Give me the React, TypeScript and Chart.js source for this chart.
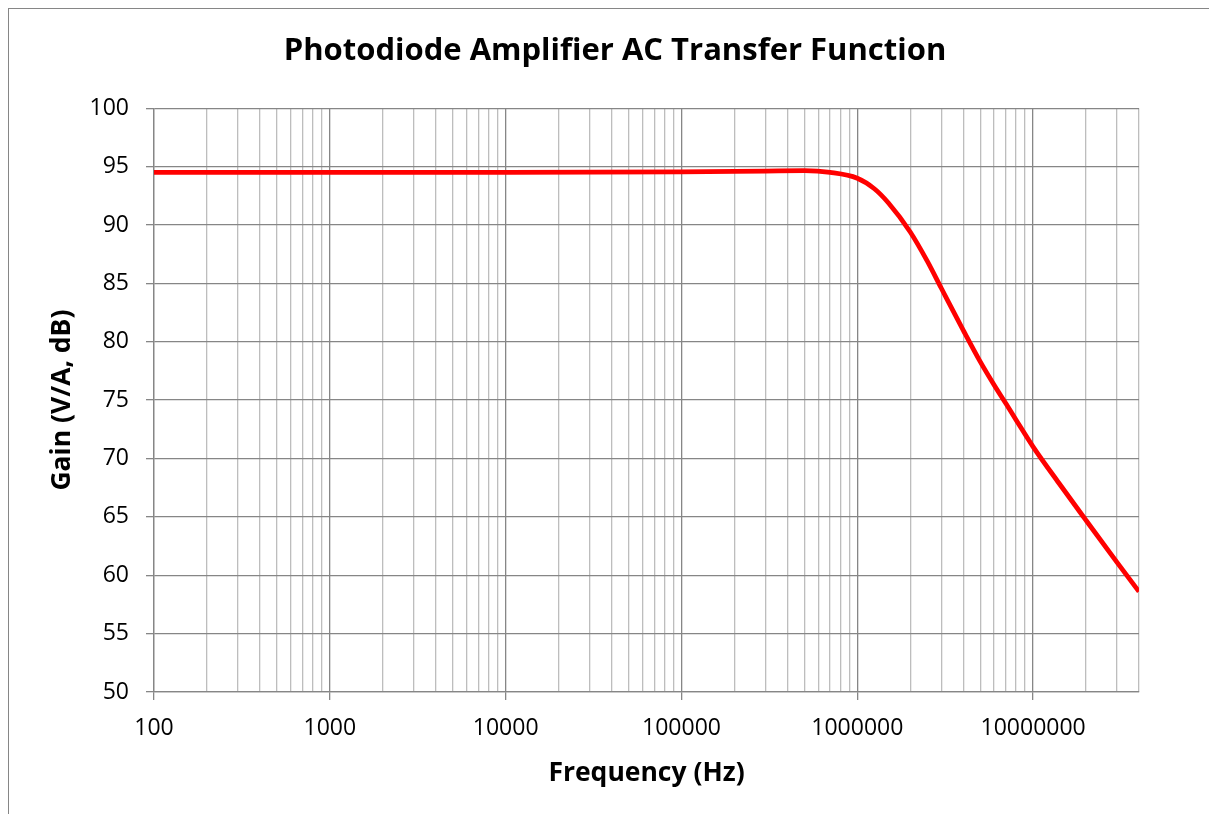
import React, { useEffect, useRef } from 'react';
import { Chart, registerables } from 'chart.js';

Chart.register(...registerables);

// ---- data ----
const frequencyHz = [
  100, 1000, 10000, 100000, 300000, 500000, 700000, 1000000, 1250000, 1500000,
  2000000, 2500000, 3000000, 4000000, 5000000, 6000000, 7000000, 8000000, 10000000,
  14000000, 20000000, 30000000, 40000000,
];
const gainDb = [
  94.5, 94.5, 94.5, 94.55, 94.62, 94.65, 94.5, 94.0, 93.1, 91.9,
  89.4, 86.9, 84.6, 81.0, 78.3, 76.3, 74.7, 73.3, 71.0,
  67.9, 64.7, 61.1, 58.6,
];

const xMajorTicks = [100, 1000, 10000, 100000, 1000000, 10000000];
const xMin = 100;
const xMax = 40000000;
const yMin = 50;
const yMax = 100;
const yStep = 5;

const titleText = 'Photodiode Amplifier AC Transfer Function';
const xTitleText = 'Frequency (Hz)';
const yTitleText = 'Gain (V/A, dB)';

const FONT = "'Open Sans', 'DejaVu Sans', sans-serif";
const MAJOR = '#868686';
const MINOR = '#bdbdbd';
const LINE = '#ff0000';

function buildLogTicks(): number[] {
  const out: number[] = [];
  for (const d of xMajorTicks) {
    for (let m = 1; m <= 9; m++) {
      const v = d * m;
      if (v <= xMax) out.push(v);
    }
  }
  if (!out.includes(xMax)) out.push(xMax);
  return out;
}

export default function App() {
  const canvasRef = useRef<HTMLCanvasElement | null>(null);

  useEffect(() => {
    const canvas = canvasRef.current;
    if (!canvas) return;
    const points = frequencyHz.map((f, i) => ({ x: f, y: gainDb[i] }));
    const tickValues = buildLogTicks();
    const isMajor = (v: number) => xMajorTicks.includes(v);

    const chart = new Chart(canvas, {
      type: 'line',
      data: {
        datasets: [
          {
            data: points,
            borderColor: LINE,
            backgroundColor: LINE,
            borderWidth: 4.75,
            pointRadius: 0,
            cubicInterpolationMode: 'monotone',
            fill: false,
          },
        ],
      },
      options: {
        animation: false,
        responsive: false,
        devicePixelRatio: 1,
        layout: { padding: { left: 13, right: 0, top: 0, bottom: 0 } },
        plugins: {
          legend: { display: false },
          tooltip: { enabled: false },
          title: {
            display: true,
            text: titleText,
            color: '#000',
            font: { family: FONT, size: 31, weight: 'bold', lineHeight: 1.2 },
            padding: { top: 24, bottom: 38 },
          },
        },
        scales: {
          x: {
            type: 'logarithmic',
            min: xMin,
            max: xMax,
            afterBuildTicks: (scale: any) => {
              scale.ticks = tickValues.map((v) => ({ value: v, major: isMajor(v) }));
            },
            afterFit: (scale: any) => {
              scale.height = 123;
            },
            ticks: {
              autoSkip: false,
              maxRotation: 0,
              minRotation: 0,
              padding: 15,
              color: '#000',
              font: { family: FONT, size: 23, lineHeight: 1.2 },
              callback: (value: any) => (isMajor(Number(value)) ? String(value) : ''),
            },
            grid: {
              color: (ctx: any) => (ctx.tick && isMajor(ctx.tick.value) ? MAJOR : MINOR),
              tickColor: (ctx: any) => (ctx.tick && isMajor(ctx.tick.value) ? MAJOR : 'rgba(0,0,0,0)'),
              lineWidth: 1.3,
              tickLength: 8,
            },
            border: { color: MAJOR, width: 1.3 },
            title: {
              display: true,
              text: xTitleText,
              color: '#000',
              font: { family: FONT, size: 26.5, weight: 'bold', lineHeight: 1.2 },
              padding: { top: 0, bottom: 26 },
            },
          },
          y: {
            type: 'linear',
            min: yMin,
            max: yMax,
            afterFit: (scale: any) => {
              scale.width = 132;
            },
            ticks: {
              stepSize: yStep,
              padding: 17,
              color: '#000',
              font: { family: FONT, size: 23, lineHeight: 1.2 },
            },
            grid: {
              color: MAJOR,
              tickColor: MAJOR,
              lineWidth: 1.3,
              tickLength: 8,
            },
            border: { color: MAJOR, width: 1.3 },
            title: {
              display: true,
              text: yTitleText,
              color: '#000',
              font: { family: FONT, size: 26.5, weight: 'bold', lineHeight: 1.2 },
              padding: { top: 25, bottom: 0 },
            },
          },
          spacer: {
            type: 'linear',
            position: 'right',
            display: true,
            grid: { display: false, drawTicks: false },
            ticks: { display: false },
            border: { display: false },
            afterFit: (scale: any) => {
              scale.width = 69;
            },
          },
        },
      } as any,
    });
    return () => chart.destroy();
  }, []);

  return (
    <>
      <style>{'html,body{overflow:hidden;background:#fff}'}</style>
      <div
        style={{
          width: 1260,
          height: 840,
          border: '1px solid #868686',
          boxSizing: 'border-box',
          background: '#fff',
        }}
      >
        <canvas ref={canvasRef} width={1199} height={806} style={{ display: 'block' }} />
      </div>
    </>
  );
}
